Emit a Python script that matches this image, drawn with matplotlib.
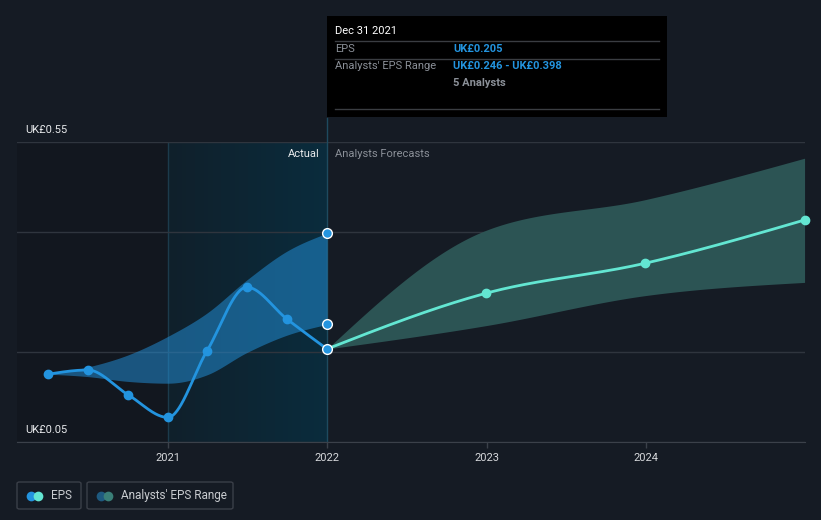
import matplotlib
matplotlib.use("Agg")
import matplotlib.pyplot as plt
import numpy as np
import pandas as pd
from matplotlib.patches import Rectangle, FancyBboxPatch
from matplotlib.lines import Line2D

plt.rcParams["font.family"] = ["Roboto", "DejaVu Sans"]

# --- data ---
past_dates = ["2020-03-31", "2020-06-30", "2020-09-30", "2020-12-31",
              "2021-03-31", "2021-06-30", "2021-09-30", "2021-12-31"]
past_eps = [0.163, 0.170, 0.129, 0.091, 0.202, 0.308, 0.255, 0.205]
past_hi = [0.163, 0.175, 0.195, 0.226, 0.265, 0.320, 0.368, 0.398]
past_lo = [0.163, 0.159, 0.151, 0.148, 0.162, 0.199, 0.228, 0.246]

fc_dates = ["2021-12-31", "2022-12-31", "2023-12-31", "2024-12-31"]
fc_eps = [0.205, 0.298, 0.348, 0.420]
fc_hi = [0.205, 0.403, 0.454, 0.523]
fc_lo = [0.205, 0.244, 0.294, 0.316]

year_ticks = [2021, 2022, 2023, 2024]
y_labels = ["UK£0.55", "UK£0.05"]
grid_vals = [0.05, 0.20, 0.40, 0.55]

BG = "#151b24"
BLUE = "#2394df"
TEAL = "#63e6d2"


def to_year(dates):
    d = pd.to_datetime(dates)
    start = pd.to_datetime(d.year.astype(str) + "-01-01")
    length = np.where(d.is_leap_year, 366, 365)
    return d.year + (d - start).days / length


def smooth(x, y, n=60):
    # monotone-x cubic like d3.curveMonotoneX (Steffen slopes)
    x = np.asarray(x, float)
    y = np.asarray(y, float)
    h = np.diff(x)
    s = np.diff(y) / h
    m = np.zeros_like(y)
    for i in range(1, len(y) - 1):
        p = (s[i - 1] * h[i] + s[i] * h[i - 1]) / (h[i - 1] + h[i])
        m[i] = (np.sign(s[i - 1]) + np.sign(s[i])) * min(abs(s[i - 1]), abs(s[i]), 0.5 * abs(p))
    if len(y) > 2:
        m[0] = (3 * s[0] - m[1]) / 2
        m[-1] = (3 * s[-1] - m[-2]) / 2
    else:
        m[:] = s[0]
    xs, ys = [], []
    for i in range(len(h)):
        t = np.linspace(0, 1, n)
        h00 = 2 * t**3 - 3 * t**2 + 1
        h10 = t**3 - 2 * t**2 + t
        h01 = -2 * t**3 + 3 * t**2
        h11 = t**3 - t**2
        xs.append(x[i] + t * h[i])
        ys.append(h00 * y[i] + h10 * h[i] * m[i] + h01 * y[i + 1] + h11 * h[i] * m[i + 1])
    return np.concatenate(xs), np.concatenate(ys)


px = to_year(past_dates)
fx = to_year(fc_dates)

fig = plt.figure(figsize=(8.21, 5.2), dpi=100, facecolor=BG)
W, H = 821, 520
ax = fig.add_axes([17 / W, 1 - 442 / H, (805 - 17) / W, 300 / H])
ax.set_facecolor(BG)
x0, x1 = 2020.05, 2025.0
ax.set_xlim(x0, x1)
ax.set_ylim(0.05, 0.55)

# background regions
ax.axvspan(x0, 2021, color="#12171f", zorder=0, lw=0)
grad = np.linspace(0, 1, 256).reshape(1, -1)
cmap = matplotlib.colors.LinearSegmentedColormap.from_list("g", ["#10202b", "#0a2c3d"])
ax.imshow(grad, extent=[2021, 2022, 0.05, 0.55], aspect="auto", cmap=cmap, zorder=0.5)
ax.axvline(2021, color="#1c3b4c", lw=1, zorder=1)

for g in grid_vals:
    ax.axhline(g, color="#2f353e", lw=1, zorder=1)

# bands
sx, shi = smooth(px, past_hi)
_, slo = smooth(px, past_lo)
ax.fill_between(sx, slo, shi, color=BLUE, alpha=0.5, lw=0, zorder=2)
fxs, fhi = smooth(fx, fc_hi)
_, flo = smooth(fx, fc_lo)
ax.fill_between(fxs, flo, fhi, color="#2c5454", lw=0, zorder=2)

# lines
sx, se = smooth(px, past_eps)
ax.plot(sx, se, color=BLUE, lw=2, zorder=3, solid_capstyle="round")
fxs, fe = smooth(fx, fc_eps)
ax.plot(fxs, fe, color=TEAL, lw=2, zorder=3, solid_capstyle="round")
ax.plot(px[:-1], past_eps[:-1], "o", color=BLUE, ms=6, zorder=4)
ax.plot(fx[1:], fc_eps[1:], "o", color=TEAL, ms=6, zorder=4, clip_on=False)
ax.plot([px[-1]] * 3, [past_eps[-1], past_lo[-1], past_hi[-1]], "o", color=BLUE,
        ms=7, mec="white", mew=1, zorder=5, clip_on=False)

# vertical marker line at the hovered date
ax.plot([2022, 2022], [0.05, 0.55 + 24 / 600], color="#1e4a5f", lw=1, zorder=1.5, clip_on=False)

ax.text(2022 - 8 / 159.3, 0.55 - 12 / 600, "Actual", color="#e8eaec", fontsize=8,
        ha="right", va="center", zorder=6)
ax.text(2022 + 8 / 159.3, 0.55 - 12 / 600, "Analysts Forecasts", color="#8b9098",
        fontsize=8, ha="left", va="center", zorder=6)

# axes styling
for s in ["top", "right", "left"]:
    ax.spines[s].set_visible(False)
ax.spines["bottom"].set_color("#3b414a")
ax.set_yticks([])
ax.set_xticks(year_ticks)
ax.set_xticklabels([str(y) for y in year_ticks])
ax.tick_params(axis="x", colors="#3b414a", length=4, width=1, labelcolor="#d6d8db",
               labelsize=8, pad=4)

fig.text(25 / W, 1 - 130 / H, y_labels[0], color="#e8eaec", fontsize=8, va="center")
fig.text(25 / W, 1 - 430 / H, y_labels[1], color="#e8eaec", fontsize=8, va="center")

# tooltip
fig.patches.append(Rectangle((327 / W, 1 - 117 / H), 340 / W, 101 / H, transform=fig.transFigure,
                             facecolor="#000000", edgecolor="none", zorder=10))
for yy in [41.5, 58.5, 109]:
    fig.add_artist(Line2D([335 / W, 659 / W], [1 - yy / H] * 2, color="#3a3d42", lw=1, zorder=11))
fig.text(335 / W, 1 - 31 / H, "Dec 31 2021", color="white", fontsize=8, va="center", zorder=12)
fig.text(335 / W, 1 - 49 / H, "EPS", color="#8b9098", fontsize=8, va="center", zorder=12)
fig.text(453 / W, 1 - 49 / H, "UK£0.205", color=BLUE, fontsize=8, fontweight="bold",
         va="center", zorder=12)
fig.text(335 / W, 1 - 66 / H, "Analysts' EPS Range", color="#8b9098", fontsize=8,
         va="center", zorder=12)
fig.text(453 / W, 1 - 66 / H, "UK£0.246 - UK£0.398", color=BLUE, fontsize=8,
         fontweight="bold", va="center", zorder=12)
fig.text(453 / W, 1 - 83 / H, "5 Analysts", color="#8b9098", fontsize=8, fontweight="bold",
         va="center", zorder=12)

# legend
legend_items = [("EPS", BLUE, TEAL, 17, 81), ("Analysts' EPS Range", "#1e5a80", "#3a7f78", 87, 233)]
for label, c1, c2, left, right in legend_items:
    fig.patches.append(FancyBboxPatch((left / W, 1 - 509 / H), (right - left) / W, 27 / H,
                                      boxstyle="round,pad=0,rounding_size=0.003",
                                      transform=fig.transFigure, facecolor="none",
                                      edgecolor="#3a3f48", lw=1))
    yc = 1 - 495.5 / H
    fig.add_artist(Line2D([(left + 14) / W], [yc], marker="o", ms=7, color=c1, mew=0))
    fig.add_artist(Line2D([(left + 21) / W], [yc], marker="o", ms=7, color=c2, mew=0))
    fig.text((left + 34) / W, yc, label, color="#c9ccd0", fontsize=8.5, va="center")

fig.savefig("out.png", dpi=100, facecolor=BG)
